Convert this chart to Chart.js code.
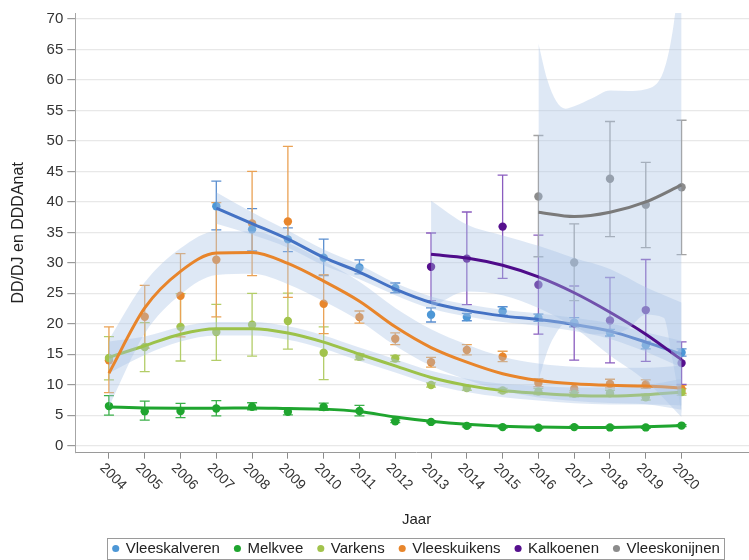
<!DOCTYPE html>
<html>
<head>
<meta charset="utf-8">
<script src="https://cdn.jsdelivr.net/npm/chart.js@4"></script>
<style>
html, body { margin: 0; padding: 0; overflow: hidden; background: #fff; }
canvas { display: block; }
</style>
</head>
<body>
<canvas id="myChart" width="762" height="566"></canvas>
<script>
// x-as: jaren, y-as: tick waarden
var jaren = [2004, 2005, 2006, 2007, 2008, 2009, 2010, 2011, 2012, 2013, 2014, 2015, 2016, 2017, 2018, 2019, 2020];
var yTicks = [0, 5, 10, 15, 20, 25, 30, 35, 40, 45, 50, 55, 60, 65, 70];

// Vleeskalveren (2007-2020)
var kalverenJaren = [2007, 2008, 2009, 2010, 2011, 2012, 2013, 2014, 2015, 2016, 2017, 2018, 2019, 2020];
var kalverenWaarde = [39.3, 35.5, 33.85, 30.85, 29.25, 25.9, 21.5, 21.1, 22.05, 21.0, 20.2, 18.55, 16.5, 15.3];
var kalverenLaag = [35.4, 31.95, 31.85, 27.9, 28.2, 25.1, 20.3, 20.5, 21.4, 20.4, 19.5, 18.0, 15.9, 14.7];
var kalverenHoog = [43.4, 38.9, 35.75, 33.9, 30.5, 26.7, 22.6, 21.7, 22.8, 21.6, 21.0, 19.1, 17.1, 15.9];
var kalverenFit = [39.0, 36.45, 33.9, 30.9, 28.5, 25.7, 23.5, 22.2, 21.3, 20.7, 19.9, 18.8, 17.0, 15.0];
var kalverenBandHoog = [41.6, 38.3, 35.3, 32.2, 29.7, 26.7, 24.5, 23.2, 22.3, 21.7, 21.0, 20.1, 18.6, 17.2];
var kalverenBandLaag = [36.4, 34.6, 32.5, 29.6, 27.3, 24.7, 22.5, 21.2, 20.3, 19.7, 18.8, 17.5, 15.4, 12.8];

// Melkvee (2004-2020)
var melkveeWaarde = [6.5, 5.65, 5.7, 6.1, 6.4, 5.55, 6.35, 5.7, 4.0, 3.9, 3.25, 3.05, 2.95, 3.05, 3.0, 3.0, 3.3];
var melkveeLaag = [5.0, 4.2, 4.6, 4.9, 5.9, 5.05, 5.8, 4.9, 3.8, 3.75, 3.1, 2.9, 2.8, 2.9, 2.85, 2.85, 3.15];
var melkveeHoog = [8.2, 7.3, 6.95, 7.4, 7.05, 6.1, 7.0, 6.6, 4.2, 4.05, 3.4, 3.2, 3.1, 3.2, 3.15, 3.15, 3.45];
var melkveeFit = [6.35, 6.2, 6.15, 6.15, 6.2, 6.1, 6.0, 5.6, 4.7, 4.0, 3.5, 3.2, 3.05, 3.0, 3.0, 3.1, 3.3];

// Varkens (2004-2020)
var varkensWaarde = [14.4, 16.2, 19.5, 18.65, 19.85, 20.45, 15.25, 14.6, 14.3, 9.95, 9.45, 9.05, 8.9, 8.5, 8.6, 7.95, 8.8];
var varkensLaag = [10.8, 12.15, 13.9, 14.0, 14.7, 15.85, 10.85, 14.1, 13.8, 9.6, 9.1, 8.7, 8.4, 8.0, 8.1, 7.5, 8.3];
var varkensHoog = [17.9, 20.2, 24.95, 23.2, 25.0, 25.05, 19.5, 15.1, 14.8, 10.3, 9.8, 9.4, 9.4, 9.0, 9.1, 8.45, 9.35];
var varkensFit = [14.5, 16.4, 18.3, 19.2, 19.2, 18.5, 17.0, 15.0, 13.1, 11.2, 9.9, 9.05, 8.6, 8.25, 8.15, 8.35, 8.8];
var varkensBandHoog = [17.1, 17.9, 19.5, 20.3, 20.3, 19.6, 18.1, 16.1, 14.2, 12.3, 11.0, 10.15, 9.8, 9.55, 9.55, 9.95, 11.0];
var varkensBandLaag = [11.9, 14.9, 17.1, 18.1, 18.1, 17.4, 15.9, 13.9, 12.0, 10.1, 8.8, 7.95, 7.4, 6.95, 6.75, 6.75, 6.6];

// Vleeskuikens (2004-2020)
var kuikensWaarde = [14.0, 21.15, 24.6, 30.5, 36.45, 36.8, 23.3, 21.1, 17.55, 13.7, 15.7, 14.6, 10.3, 9.35, 10.15, 10.05, 9.3];
var kuikensLaag = [8.7, 16.0, 17.85, 21.15, 27.9, 24.35, 18.4, 20.1, 16.6, 12.9, 14.9, 13.8, 9.7, 8.7, 9.5, 9.4, 8.6];
var kuikensHoog = [19.5, 26.3, 31.5, 39.9, 45.0, 49.1, 28.05, 22.1, 18.5, 14.5, 16.6, 15.5, 11.0, 10.1, 10.9, 10.8, 9.9];
var kuikensFit = [11.9, 22.6, 28.6, 31.6, 31.7, 29.9, 27.0, 23.7, 19.5, 16.1, 13.7, 11.8, 10.7, 10.15, 9.9, 9.8, 9.5];
var kuikensBandHoog = [17.4, 26.8, 32.4, 35.2, 35.2, 33.3, 30.3, 26.9, 22.6, 19.1, 16.6, 14.6, 13.5, 12.95, 12.8, 12.8, 13.1];
var kuikensBandLaag = [6.4, 18.4, 24.8, 28.0, 28.2, 26.5, 23.7, 20.5, 16.4, 13.1, 10.8, 9.0, 7.9, 7.35, 7.0, 6.8, 5.9];

// Kalkoenen (2013-2020)
var kalkoenJaren = [2013, 2014, 2015, 2016, 2017, 2018, 2019, 2020];
var kalkoenWaarde = [29.35, 30.7, 35.95, 26.4, 20.1, 20.55, 22.25, 13.55];
var kalkoenLaag = [23.8, 23.15, 27.45, 18.3, 14.05, 13.6, 13.85, 10.05];
var kalkoenHoog = [34.9, 38.35, 44.4, 34.55, 26.2, 27.6, 30.55, 17.05];
var kalkoenFit = [31.4, 30.8, 29.6, 27.7, 25.1, 21.9, 18.3, 14.1];
var kalkoenBandHoog = [40.2, 36.3, 34.5, 32.8, 30.8, 29.0, 26.0, 23.5];
var kalkoenBandLaag = [22.6, 25.3, 24.7, 22.6, 19.4, 14.8, 10.6, 4.7];

// Vleeskonijnen (2016-2020)
var konijnJaren = [2016, 2017, 2018, 2019, 2020];
var konijnWaarde = [40.9, 30.05, 43.8, 39.55, 42.4];
var konijnLaag = [31.0, 23.8, 34.3, 32.5, 31.35];
var konijnHoog = [50.9, 36.4, 53.2, 46.5, 53.4];
var konijnFit = [38.3, 37.6, 38.3, 40.0, 42.8];
var konijnBandJaren = [2016, 2016.25, 2016.5, 2016.75, 2017, 2017.5, 2018, 2018.5, 2019, 2019.5, 2019.75, 2020];
var konijnBandHoog = [66, 60, 56.5, 55.3, 55.7, 57, 58.3, 58.2, 58.5, 61.5, 68, 80];
var konijnBandLaag = [10.6, 15.5, 18.5, 20.0, 19.6, 18.3, 18.3, 19.2, 21.5, 21.0, 14, 5.2];

var bandKleur = 'rgba(168, 194, 228, 0.38)';

function xy(xs, ys) {
    return xs.map(function(x, i) { return {x: x, y: ys[i]}; });
}

function punten(label, xs, ys, laag, hoog, kleur, foutKleur) {
    return {
        type: 'scatter', label: label, data: xy(xs, ys),
        laag: laag, hoog: hoog, foutKleur: foutKleur, legende: true,
        backgroundColor: kleur, borderColor: kleur, borderWidth: 0,
        pointRadius: 4.2, pointHoverRadius: 4.2, order: 100
    };
}

function lijn(xs, ys, kleur, volgorde) {
    return {
        type: 'line', label: 'fit', data: xy(xs, ys),
        borderColor: kleur, borderWidth: 3, pointRadius: 0, fill: false,
        cubicInterpolationMode: 'monotone', order: volgorde
    };
}

function band(xs, hoog, laag, volgorde) {
    return [{
        type: 'line', label: 'band', data: xy(xs, hoog),
        borderColor: 'rgba(0,0,0,0)', borderWidth: 1, pointRadius: 0, fill: false,
        cubicInterpolationMode: 'monotone', order: volgorde
    }, {
        type: 'line', label: 'band', data: xy(xs, laag),
        borderColor: 'rgba(0,0,0,0)', borderWidth: 1, pointRadius: 0, fill: '-1',
        backgroundColor: bandKleur, cubicInterpolationMode: 'monotone', order: volgorde
    }];
}

var datasets = [
    punten('Vleeskalveren', kalverenJaren, kalverenWaarde, kalverenLaag, kalverenHoog, '#4d97d6', '#5b8fd0'),
    punten('Melkvee', jaren, melkveeWaarde, melkveeLaag, melkveeHoog, '#1fa52f', '#3bb04a'),
    punten('Varkens', jaren, varkensWaarde, varkensLaag, varkensHoog, '#a2c34c', '#b3cd68'),
    punten('Vleeskuikens', jaren, kuikensWaarde, kuikensLaag, kuikensHoog, '#e8862c', '#eaa255'),
    punten('Kalkoenen', kalkoenJaren, kalkoenWaarde, kalkoenLaag, kalkoenHoog, '#56108e', '#8a5cbf'),
    punten('Vleeskonijnen', konijnJaren, konijnWaarde, konijnLaag, konijnHoog, '#8c8c8c', '#a3a3a3')
];
datasets = datasets.concat(band(kalverenJaren, kalverenBandHoog, kalverenBandLaag, 60));
datasets.push(lijn(kalverenJaren, kalverenFit, '#4472c4', 59));
datasets.push(lijn(jaren, melkveeFit, '#1fa52f', 49));
datasets = datasets.concat(band(jaren, varkensBandHoog, varkensBandLaag, 40));
datasets.push(lijn(jaren, varkensFit, '#9cc24a', 39));
datasets = datasets.concat(band(jaren, kuikensBandHoog, kuikensBandLaag, 30));
datasets.push(lijn(jaren, kuikensFit, '#e8852b', 29));
datasets = datasets.concat(band(kalkoenJaren, kalkoenBandHoog, kalkoenBandLaag, 20));
datasets.push(lijn(kalkoenJaren, kalkoenFit, '#4f0c8a', 19));
datasets = datasets.concat(band(konijnBandJaren, konijnBandHoog, konijnBandLaag, 10));
datasets.push(lijn(konijnJaren, konijnFit, '#7a7a7a', 9));

// foutbalken, x-labels (schuin) en rand om de legende
var extraPlugin = {
    id: 'extra',
    beforeDatasetsDraw: function(chart) {
        var ctx = chart.ctx, sx = chart.scales.x, sy = chart.scales.y;
        ctx.save();
        chart.data.datasets.forEach(function(ds) {
            if (!ds.laag) return;
            ctx.strokeStyle = ds.foutKleur;
            ctx.lineWidth = 1.3;
            ds.data.forEach(function(p, j) {
                var px = sx.getPixelForValue(p.x);
                var top = sy.getPixelForValue(ds.hoog[j]);
                var bot = sy.getPixelForValue(ds.laag[j]);
                ctx.beginPath();
                ctx.moveTo(px, top); ctx.lineTo(px, bot);
                ctx.moveTo(px - 5, top); ctx.lineTo(px + 5, top);
                ctx.moveTo(px - 5, bot); ctx.lineTo(px + 5, bot);
                ctx.stroke();
            });
        });
        ctx.restore();
    },
    afterDraw: function(chart) {
        var ctx = chart.ctx, sx = chart.scales.x;
        ctx.save();
        ctx.font = '14px Arial, "Liberation Sans", sans-serif';
        ctx.fillStyle = '#333';
        ctx.textAlign = 'left';
        ctx.textBaseline = 'top';
        jaren.forEach(function(j) {
            var px = sx.getPixelForValue(j);
            ctx.save();
            ctx.translate(px - 2, sx.top + 8);
            ctx.rotate(Math.PI / 4);
            ctx.fillText(String(j), 0, 0);
            ctx.restore();
        });
        var boxes = chart.legend.legendHitBoxes;
        if (boxes && boxes.length) {
            var l = Infinity, r = -Infinity, t = Infinity, b = -Infinity;
            boxes.forEach(function(h) {
                l = Math.min(l, h.left); r = Math.max(r, h.left + h.width);
                t = Math.min(t, h.top); b = Math.max(b, h.top + h.height);
            });
            ctx.strokeStyle = '#9a9a9a';
            ctx.lineWidth = 1;
            ctx.strokeRect(Math.round(l - 6) + 0.5, Math.round(t - 3) + 0.5, Math.round(r - l + 10), Math.round(b - t + 6));
        }
        ctx.restore();
    }
};

Chart.defaults.font.family = 'Arial, "Liberation Sans", sans-serif';

var chartCanvas = document.getElementById('myChart');
var myChart = new Chart(chartCanvas.getContext('2d'), {
    type: 'scatter',
    data: { datasets: datasets },
    options: {
        responsive: false,
        animation: false,
        events: [],
        layout: { padding: { top: 9, right: 0, bottom: 0, left: 0 } },
        scales: {
            x: {
                type: 'linear', min: 2003.06, max: 2022.13,
                afterBuildTicks: function(s) { s.ticks = jaren.map(function(v) { return {value: v}; }); },
                afterFit: function(s) { s.height = 73.3; },
                grid: { drawOnChartArea: false, tickLength: 6, tickColor: '#8c8c8c' },
                border: { color: '#9a9a9a' },
                ticks: { display: false },
                title: { display: true, text: 'Jaar', font: { size: 15 }, color: '#222', padding: { top: 0, bottom: -3 } }
            },
            y: {
                min: -1.15, max: 71,
                afterBuildTicks: function(s) { s.ticks = yTicks.map(function(v) { return {value: v}; }); },
                afterFit: function(s) { s.width = 75.3; },
                grid: { color: '#e8e8e8', lineWidth: 1.2, tickLength: 8, tickColor: '#999' },
                border: { color: '#a6a6a6' },
                ticks: { font: { size: 15 }, color: '#333', padding: 4 },
                title: { display: true, text: 'DD/DJ en DDDAnat', font: { size: 16 }, color: '#222', padding: { top: 9, bottom: 0 } }
            }
        },
        plugins: {
            tooltip: { enabled: false },
            legend: {
                position: 'bottom',
                fullSize: false,
                labels: {
                    usePointStyle: true, boxWidth: 5, boxHeight: 5, padding: 15,
                    font: { size: 15 }, color: '#222',
                    filter: function(item, data) { return data.datasets[item.datasetIndex].legende; }
                }
            }
        }
    },
    plugins: [extraPlugin]
});
</script>
</body>
</html>
